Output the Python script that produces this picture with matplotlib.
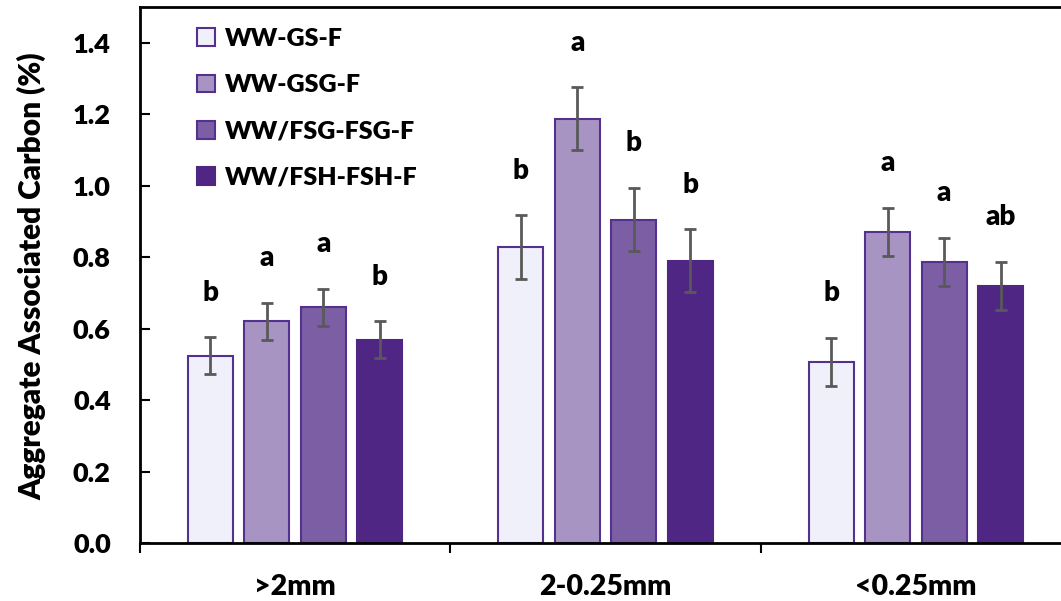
import matplotlib
matplotlib.use("Agg")
import matplotlib.pyplot as plt
import numpy as np
from matplotlib.patches import Patch

plt.rcParams['font.family'] = ['Lato', 'DejaVu Sans']
plt.rcParams['font.weight'] = 'heavy'
WT = 'heavy'

categories = ['>2mm', '2-0.25mm', '<0.25mm']
series_names = ['WW-GS-F', 'WW-GSG-F', 'WW/FSG-FSG-F', 'WW/FSH-FSH-F']
values = {
    'WW-GS-F':      [0.524, 0.829, 0.506],
    'WW-GSG-F':     [0.621, 1.187, 0.871],
    'WW/FSG-FSG-F': [0.660, 0.905, 0.787],
    'WW/FSH-FSH-F': [0.569, 0.790, 0.720],
}
errors = {
    'WW-GS-F':      [0.052, 0.089, 0.068],
    'WW-GSG-F':     [0.052, 0.088, 0.067],
    'WW/FSG-FSG-F': [0.052, 0.089, 0.067],
    'WW/FSH-FSH-F': [0.052, 0.088, 0.067],
}
letters = {
    'WW-GS-F':      ['b', 'b', 'b'],
    'WW-GSG-F':     ['a', 'a', 'a'],
    'WW/FSG-FSG-F': ['a', 'b', 'a'],
    'WW/FSH-FSH-F': ['b', 'b', 'ab'],
}
y_ticks = [0.0, 0.2, 0.4, 0.6, 0.8, 1.0, 1.2, 1.4]
y_label = 'Aggregate Associated Carbon (%)'

fills = ['#F0F0FA', '#A794C3', '#7B5EA3', '#4F2683']
edges = ['#54308F', '#54308F', '#54308F', '#4F2683']

W, H = 1061, 601
fig = plt.figure(figsize=(W / 100, H / 100), dpi=100)
ax = fig.add_axes([140 / W, (H - 543) / H, 931 / W, 536 / H])

x = np.arange(len(categories))
step = 0.182
width = 0.145
for i, name in enumerate(series_names):
    xs = x + (i - 1.5) * step
    ax.bar(xs, values[name], width=width, color=fills[i], edgecolor=edges[i],
           linewidth=1.5, label=name, zorder=2)
    ax.errorbar(xs, values[name], yerr=errors[name], fmt='none', ecolor='#595959',
                elinewidth=2, capsize=4.5, capthick=2, zorder=3)
    for xi, v, e, t in zip(xs, values[name], errors[name], letters[name]):
        ax.annotate(t, (xi, v + e), xytext=(0, 32), textcoords='offset points',
                    ha='center', va='center', fontsize=20, fontweight=WT)

ax.set_xlim(-0.5, 2.5)
ax.set_ylim(0, 1.5)
ax.set_yticks(y_ticks)
ax.set_yticklabels([f'{t:.1f}' for t in y_ticks], fontsize=19.5, fontweight=WT)
ax.tick_params(axis='y', direction='in', length=7.5, width=1.5, pad=21)

ax.set_xticks([-0.5, 0.5, 1.5])
ax.set_xticklabels([])
ax.set_xticks(x, minor=True)
ax.set_xticklabels(categories, minor=True, fontsize=20.5, fontweight=WT)
ax.tick_params(axis='x', which='major', direction='out', length=7.5, width=1.5)
ax.tick_params(axis='x', which='minor', length=0, pad=22)

for s in ['left', 'bottom', 'top', 'right']:
    ax.spines[s].set_linewidth(2)

ax.set_ylabel(y_label, fontsize=21.5, fontweight=WT)
ax.yaxis.set_label_coords(-94 / 931, 0.498)

handles = [Patch(facecolor=fills[i], edgecolor=edges[i], linewidth=1.5) for i in range(4)]
ax.legend(handles, series_names, loc='upper left', bbox_to_anchor=(57 / 931, 1 - 21 / 536),
          frameon=False, prop={'weight': WT, 'size': 18},
          handlelength=0.72, handleheight=0.72, handletextpad=0.4,
          labelspacing=0.97, borderpad=0, borderaxespad=0)

fig.savefig('out.png', dpi=100)
